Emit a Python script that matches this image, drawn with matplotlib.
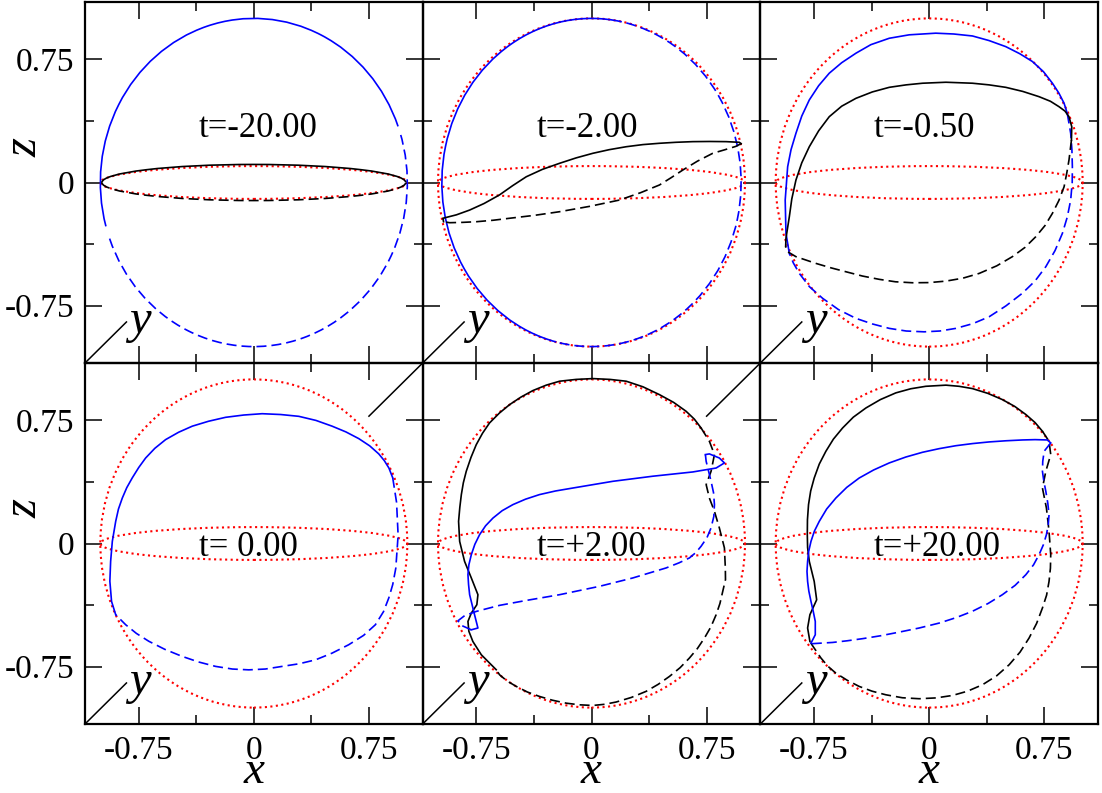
import matplotlib
matplotlib.use("Agg")
import matplotlib.pyplot as plt
from matplotlib.patches import Circle, Ellipse, Arc
from matplotlib.ticker import FixedLocator, FixedFormatter

plt.rcParams['font.family'] = 'serif'
plt.rcParams['font.serif'] = ['Liberation Serif', 'Times New Roman', 'DejaVu Serif']
plt.rcParams['axes.unicode_minus'] = False

# ---------------- data ----------------
TIME_LABELS = ["t=-20.00", "t=-2.00", "t=-0.50", "t= 0.00", "t=+2.00", "t=+20.00"]
MAJOR_TICKS = [-0.75, 0.0, 0.75]
MINOR_TICKS = [-0.375, 0.375]
TICK_LABELS = ["-0.75", "0", "0.75"]
LIMITS = (-1.1, 1.1)

# panel 1 (t=-20): arcs (width, height, theta1, theta2)
P1_BLUE_SOLID_ARC = (2.0, 2.0, 20.0, 195.5)
P1_BLUE_DASHED_ARC = (2.0, 2.0, 200.0, 378.0)
P1_BLACK_SOLID_ARC = (1.98, 0.22, 0.0, 180.0)
P1_BLACK_DASHED_ARC = (1.98, 0.22, 180.0, 360.0)

# panel 2 (t=-2)
P2_BLUE_SOLID_ARC = (1.95, 2.0, 78.6, 256.7)
P2_BLUE_DASHED_ARC = (1.95, 2.0, 258.0, 437.0)
P2_BLACK_SOLID_X = [-0.964, -0.968, -0.880, -0.794, -0.700, -0.600, -0.515, -0.425, -0.320, -0.208, -0.100, 0.009, 0.115, 0.226, 0.335, 0.443, 0.550, 0.660, 0.770, 0.877, 0.963, 0.975]
P2_BLACK_SOLID_Z = [-0.239, -0.218, -0.197, -0.168, -0.128, -0.076, -0.020, 0.035, 0.080, 0.117, 0.150, 0.178, 0.200, 0.218, 0.231, 0.239, 0.245, 0.249, 0.250, 0.249, 0.245, 0.237]
P2_BLACK_DASHED_X = [0.975, 0.940, 0.870, 0.790, 0.690, 0.595, 0.520, 0.443, 0.320, 0.182, -0.010, -0.208, -0.370, -0.534, -0.640, -0.750, -0.840, -0.924, -0.964]
P2_BLACK_DASHED_Z = [0.237, 0.220, 0.200, 0.178, 0.130, 0.076, 0.030, -0.015, -0.062, -0.107, -0.145, -0.178, -0.200, -0.218, -0.230, -0.239, -0.243, -0.245, -0.239]

# panel 3 (t=-0.5)
P3_BLUE_SOLID_X = [-0.911, -0.933, -0.938, -0.922, -0.900, -0.868, -0.830, -0.781, -0.720, -0.651, -0.570, -0.477, -0.380, -0.260, -0.130, 0.043, 0.160, 0.282, 0.390, 0.499, 0.590, 0.673, 0.745, 0.803, 0.845, 0.879, 0.900]
P3_BLUE_SOLID_Z = [-0.432, -0.310, -0.107, 0.096, 0.200, 0.300, 0.405, 0.503, 0.590, 0.666, 0.730, 0.788, 0.840, 0.879, 0.900, 0.910, 0.905, 0.893, 0.865, 0.828, 0.785, 0.737, 0.675, 0.605, 0.545, 0.483, 0.420]
P3_BLUE_DASHED_X = [0.900, 0.922, 0.930, 0.933, 0.932, 0.922, 0.900, 0.868, 0.820, 0.760, 0.690, 0.607, 0.500, 0.391, 0.285, 0.174, 0.070, -0.033, -0.150, -0.260, -0.370, -0.477, -0.590, -0.694, -0.780, -0.846, -0.885, -0.911]
P3_BLUE_DASHED_Z = [0.420, 0.300, 0.200, 0.096, 0.000, -0.107, -0.210, -0.310, -0.415, -0.513, -0.600, -0.675, -0.752, -0.818, -0.860, -0.889, -0.905, -0.910, -0.905, -0.889, -0.862, -0.828, -0.775, -0.706, -0.635, -0.554, -0.490, -0.432]
P3_BLACK_SOLID_X = [-0.935, -0.933, -0.911, -0.895, -0.868, -0.830, -0.781, -0.720, -0.651, -0.570, -0.477, -0.370, -0.260, -0.150, -0.043, 0.109, 0.282, 0.390, 0.499, 0.610, 0.716, 0.790, 0.846, 0.885, 0.911, 0.929, 0.927]
P3_BLACK_SOLID_Z = [-0.390, -0.340, -0.208, -0.100, 0.015, 0.120, 0.218, 0.315, 0.401, 0.465, 0.513, 0.552, 0.580, 0.595, 0.605, 0.611, 0.605, 0.595, 0.580, 0.555, 0.523, 0.495, 0.462, 0.435, 0.401, 0.340, 0.259]
P3_BLACK_DASHED_X = [0.927, 0.911, 0.897, 0.879, 0.845, 0.803, 0.755, 0.695, 0.625, 0.542, 0.440, 0.326, 0.220, 0.109, 0.000, -0.109, -0.220, -0.326, -0.435, -0.542, -0.640, -0.738, -0.868, -0.922, -0.935]
P3_BLACK_DASHED_Z = [0.259, 0.137, 0.060, -0.026, -0.110, -0.188, -0.262, -0.330, -0.395, -0.452, -0.508, -0.554, -0.583, -0.601, -0.610, -0.611, -0.605, -0.590, -0.570, -0.544, -0.520, -0.493, -0.452, -0.422, -0.390]

# panel 4 (t=0)
P4_BLUE_SOLID_X = [-0.900, -0.927, -0.938, -0.933, -0.922, -0.900, -0.882, -0.857, -0.828, -0.792, -0.750, -0.705, -0.645, -0.575, -0.490, -0.401, -0.295, -0.184, -0.065, 0.054, 0.175, 0.293, 0.405, 0.510, 0.600, 0.684, 0.755, 0.814, 0.850, 0.880, 0.905]
P4_BLUE_SOLID_Z = [-0.434, -0.353, -0.230, -0.109, 0.013, 0.135, 0.210, 0.277, 0.340, 0.400, 0.463, 0.521, 0.580, 0.633, 0.678, 0.715, 0.745, 0.769, 0.783, 0.791, 0.786, 0.775, 0.750, 0.715, 0.680, 0.639, 0.595, 0.546, 0.505, 0.460, 0.400]
P4_BLUE_DASHED_X = [0.905, 0.930, 0.940, 0.925, 0.905, 0.880, 0.845, 0.792, 0.715, 0.618, 0.510, 0.402, 0.295, 0.184, 0.075, -0.033, -0.140, -0.249, -0.360, -0.467, -0.580, -0.684, -0.765, -0.835, -0.900]
P4_BLUE_DASHED_Z = [0.400, 0.250, 0.050, -0.150, -0.250, -0.330, -0.415, -0.495, -0.560, -0.617, -0.668, -0.709, -0.733, -0.749, -0.765, -0.770, -0.765, -0.749, -0.722, -0.688, -0.645, -0.596, -0.548, -0.495, -0.434]

# panel 5 (t=+2)
P5_BLUE_SOLID_X = [-0.783, -0.740, -0.762, -0.794, -0.801, -0.805, -0.799, -0.783, -0.760, -0.729, -0.690, -0.642, -0.582, -0.512, -0.430, -0.339, -0.235, -0.122, 0.139, 0.399, 0.660, 0.812, 0.866, 0.833, 0.768, 0.742]
P5_BLUE_SOLID_Z = [-0.526, -0.515, -0.434, -0.312, -0.250, -0.190, -0.130, -0.068, -0.005, 0.054, 0.108, 0.155, 0.200, 0.237, 0.270, 0.298, 0.320, 0.338, 0.379, 0.410, 0.436, 0.460, 0.491, 0.521, 0.546, 0.542]
P5_BLUE_DASHED_X = [0.742, 0.747, 0.779, 0.795, 0.801, 0.797, 0.779, 0.752, 0.714, 0.680, 0.638, 0.570, 0.486, 0.269, 0.052, -0.208, -0.425, -0.599, -0.751, -0.827, -0.870, -0.848, -0.783]
P5_BLUE_DASHED_Z = [0.542, 0.501, 0.379, 0.310, 0.237, 0.165, 0.095, 0.035, -0.017, -0.055, -0.088, -0.118, -0.149, -0.210, -0.261, -0.312, -0.347, -0.377, -0.414, -0.440, -0.471, -0.499, -0.526]
P5_BLACK_SOLID_X = [-0.621, -0.718, -0.773, -0.799, -0.805, -0.783, -0.747, -0.740, -0.783, -0.827, -0.859, -0.866, -0.858, -0.848, -0.835, -0.816, -0.785, -0.751, -0.710, -0.664, -0.600, -0.534, -0.460, -0.382, -0.295, -0.208, -0.100, 0.009, 0.120, 0.226, 0.335, 0.443, 0.535, 0.616, 0.670, 0.714]
P5_BLACK_SOLID_Z = [-0.769, -0.678, -0.597, -0.535, -0.475, -0.424, -0.373, -0.312, -0.210, -0.109, 0.013, 0.135, 0.220, 0.298, 0.370, 0.440, 0.525, 0.602, 0.672, 0.735, 0.795, 0.846, 0.892, 0.932, 0.965, 0.989, 1.000, 1.005, 1.000, 0.989, 0.955, 0.907, 0.860, 0.806, 0.758, 0.704]
P5_BLACK_DASHED_X = [0.714, 0.768, 0.801, 0.779, 0.747, 0.768, 0.801, 0.833, 0.866, 0.872, 0.873, 0.855, 0.837, 0.812, 0.778, 0.736, 0.690, 0.638, 0.577, 0.508, 0.435, 0.356, 0.260, 0.161, 0.085, 0.009, -0.080, -0.165, -0.255, -0.339, -0.418, -0.490, -0.550, -0.599, -0.621]
P5_BLACK_DASHED_Z = [0.704, 0.623, 0.542, 0.440, 0.359, 0.277, 0.196, 0.095, -0.027, -0.149, -0.220, -0.292, -0.365, -0.434, -0.508, -0.576, -0.640, -0.698, -0.757, -0.810, -0.858, -0.901, -0.938, -0.966, -0.980, -0.987, -0.983, -0.973, -0.955, -0.932, -0.905, -0.871, -0.838, -0.800, -0.769]

# panel 6 (t=+20)
P6_BLUE_SOLID_X = [-0.770, -0.742, -0.742, -0.755, -0.770, -0.784, -0.792, -0.796, -0.792, -0.785, -0.770, -0.748, -0.716, -0.668, -0.608, -0.537, -0.456, -0.362, -0.260, -0.152, -0.043, 0.065, 0.174, 0.283, 0.391, 0.500, 0.608, 0.690, 0.770, 0.792]
P6_BLUE_SOLID_Z = [-0.607, -0.556, -0.475, -0.415, -0.353, -0.290, -0.231, -0.170, -0.109, -0.048, 0.013, 0.075, 0.135, 0.210, 0.277, 0.342, 0.399, 0.448, 0.491, 0.527, 0.556, 0.578, 0.596, 0.609, 0.619, 0.626, 0.631, 0.633, 0.631, 0.613]
P6_BLUE_DASHED_X = [0.792, 0.749, 0.740, 0.738, 0.747, 0.760, 0.773, 0.781, 0.776, 0.764, 0.744, 0.716, 0.680, 0.630, 0.560, 0.477, 0.385, 0.282, 0.175, 0.065, -0.065, -0.195, -0.315, -0.434, -0.535, -0.629, -0.770]
P6_BLUE_DASHED_Z = [0.613, 0.562, 0.500, 0.440, 0.380, 0.318, 0.245, 0.176, 0.115, 0.054, -0.008, -0.068, -0.130, -0.190, -0.255, -0.312, -0.365, -0.413, -0.452, -0.485, -0.515, -0.540, -0.562, -0.580, -0.593, -0.603, -0.611]
P6_BLACK_SOLID_X = [-0.777, -0.792, -0.777, -0.733, -0.749, -0.781, -0.792, -0.794, -0.793, -0.786, -0.772, -0.749, -0.716, -0.673, -0.624, -0.564, -0.494, -0.412, -0.318, -0.217, -0.120, -0.022, 0.109, 0.195, 0.282, 0.382, 0.477, 0.558, 0.630, 0.690, 0.738]
P6_BLACK_SOLID_Z = [-0.597, -0.515, -0.434, -0.343, -0.231, -0.109, -0.025, 0.054, 0.145, 0.237, 0.320, 0.399, 0.484, 0.562, 0.636, 0.704, 0.770, 0.826, 0.877, 0.918, 0.943, 0.958, 0.965, 0.958, 0.944, 0.915, 0.877, 0.835, 0.786, 0.737, 0.684]
P6_BLACK_DASHED_X = [0.738, 0.781, 0.792, 0.760, 0.738, 0.764, 0.781, 0.792, 0.790, 0.781, 0.765, 0.738, 0.700, 0.651, 0.592, 0.521, 0.440, 0.347, 0.250, 0.152, 0.045, -0.065, -0.175, -0.282, -0.372, -0.456, -0.535, -0.608, -0.660, -0.705, -0.764, -0.777]
P6_BLACK_DASHED_Z = [0.684, 0.623, 0.542, 0.440, 0.338, 0.216, 0.074, -0.068, -0.150, -0.231, -0.315, -0.393, -0.487, -0.576, -0.662, -0.739, -0.806, -0.861, -0.900, -0.926, -0.941, -0.946, -0.940, -0.922, -0.900, -0.871, -0.833, -0.790, -0.748, -0.698, -0.617, -0.597]

# y-axis guide line (start, end) and label position in each panel's data units
Y_LINE_START = (-1.1, -1.1)
Y_LINE_START_LONG = (-1.45, -1.424)
Y_LINE_END = (-0.83, -0.85)
Y_LABEL_POS = (-0.81, -0.92)
TIME_LABEL_POS_TOP = (-0.36, 0.276)
TIME_LABEL_POS_BOTTOM = (-0.36, -0.078)

# ---------------- drawing ----------------
BLUE = '#0000ff'
RED = '#ff0000'
LW = 1.2
DASH = (0, (6, 3))

fig, axes = plt.subplots(2, 3, figsize=(11.02, 7.93), dpi=100)
fig.patch.set_facecolor('white')
fig.subplots_adjust(left=85/1102, right=1098/1102, bottom=1-724/793, top=1-2/793,
                    wspace=0, hspace=0)


def curve(ax, xs, zs, color, dashed):
    ax.plot(xs, zs, color=color, lw=LW, ls=DASH if dashed else '-', zorder=3,
            solid_joinstyle='round', dash_joinstyle='round')


def arc(ax, spec, color, dashed):
    w, h, t1, t2 = spec
    ax.add_patch(Arc((0, 0), w, h, theta1=t1, theta2=t2, color=color, lw=LW,
                     ls=DASH if dashed else '-', zorder=3))


panel_curves = [
    [],
    [(P2_BLACK_SOLID_X, P2_BLACK_SOLID_Z, 'k', False), (P2_BLACK_DASHED_X, P2_BLACK_DASHED_Z, 'k', True)],
    [(P3_BLUE_SOLID_X, P3_BLUE_SOLID_Z, BLUE, False), (P3_BLUE_DASHED_X, P3_BLUE_DASHED_Z, BLUE, True),
     (P3_BLACK_SOLID_X, P3_BLACK_SOLID_Z, 'k', False), (P3_BLACK_DASHED_X, P3_BLACK_DASHED_Z, 'k', True)],
    [(P4_BLUE_SOLID_X, P4_BLUE_SOLID_Z, BLUE, False), (P4_BLUE_DASHED_X, P4_BLUE_DASHED_Z, BLUE, True)],
    [(P5_BLACK_SOLID_X, P5_BLACK_SOLID_Z, 'k', False), (P5_BLACK_DASHED_X, P5_BLACK_DASHED_Z, 'k', True),
     (P5_BLUE_SOLID_X, P5_BLUE_SOLID_Z, BLUE, False), (P5_BLUE_DASHED_X, P5_BLUE_DASHED_Z, BLUE, True)],
    [(P6_BLACK_SOLID_X, P6_BLACK_SOLID_Z, 'k', False), (P6_BLACK_DASHED_X, P6_BLACK_DASHED_Z, 'k', True),
     (P6_BLUE_SOLID_X, P6_BLUE_SOLID_Z, BLUE, False), (P6_BLUE_DASHED_X, P6_BLUE_DASHED_Z, BLUE, True)],
]

for i, ax in enumerate(axes.flat):
    row, col = divmod(i, 3)
    ax.set_facecolor('none')
    ax.set_xlim(*LIMITS)
    ax.set_ylim(*LIMITS)
    for sp in ax.spines.values():
        sp.set_linewidth(1.6)
    ax.xaxis.set_major_locator(FixedLocator(MAJOR_TICKS))
    ax.yaxis.set_major_locator(FixedLocator(MAJOR_TICKS))
    ax.xaxis.set_minor_locator(FixedLocator(MINOR_TICKS))
    ax.yaxis.set_minor_locator(FixedLocator(MINOR_TICKS))
    ax.xaxis.set_major_formatter(FixedFormatter(TICK_LABELS))
    ax.yaxis.set_major_formatter(FixedFormatter(TICK_LABELS))
    ax.tick_params(which='both', direction='in', top=True, right=True, width=1.1,
                   labelsize=24, pad=8)
    ax.tick_params(which='major', length=12)
    ax.tick_params(which='minor', length=6.7)
    ax.tick_params(axis='x', labelbottom=(row == 1), labeltop=False)
    ax.tick_params(axis='y', labelleft=(col == 0), labelright=False)

    # sphere outline and equator
    if i != 0:
        ax.add_patch(Circle((0, 0), 1.0, fill=False, ls=':', color=RED, lw=1.5, zorder=2))
    ax.add_patch(Ellipse((0, 0), 2.0, 0.2, fill=False, ls=':', color=RED, lw=1.5, zorder=2))

    if i == 0:
        arc(ax, P1_BLUE_SOLID_ARC, BLUE, False)
        arc(ax, P1_BLUE_DASHED_ARC, BLUE, True)
        arc(ax, P1_BLACK_SOLID_ARC, 'k', False)
        arc(ax, P1_BLACK_DASHED_ARC, 'k', True)
    if i == 1:
        arc(ax, P2_BLUE_SOLID_ARC, BLUE, False)
        arc(ax, P2_BLUE_DASHED_ARC, BLUE, True)
    for xs, zs, c, d in panel_curves[i]:
        curve(ax, xs, zs, c, d)

    # y axis guide
    start = Y_LINE_START_LONG if (row == 0 and col > 0) else Y_LINE_START
    ax.plot([start[0], Y_LINE_END[0]], [start[1], Y_LINE_END[1]], color='k', lw=1.1,
            clip_on=False, zorder=4)
    ax.text(Y_LABEL_POS[0], Y_LABEL_POS[1], 'y', fontsize=35, fontstyle='italic',
            ha='left', va='baseline')

    pos = TIME_LABEL_POS_TOP if row == 0 else TIME_LABEL_POS_BOTTOM
    ax.text(pos[0], pos[1], TIME_LABELS[i], fontsize=25, ha='left', va='baseline', zorder=5)

    if col == 0:
        ax.text(-0.178, 0.596, 'z', transform=ax.transAxes, fontsize=35, fontstyle='italic',
                rotation=90, ha='center', va='center')
    if row == 1:
        ax.text(0.5, -0.191, 'x', transform=ax.transAxes, fontsize=34, fontstyle='italic',
                ha='center', va='bottom')

fig.savefig('out.png', dpi=100, facecolor='white')
